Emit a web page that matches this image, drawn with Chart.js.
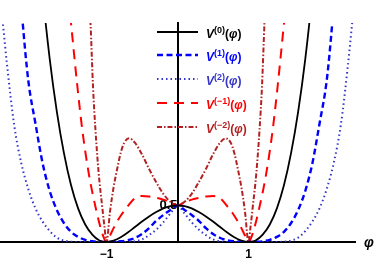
<!DOCTYPE html>
<html>
<head>
<meta charset="utf-8">
<script src="https://cdn.jsdelivr.net/npm/chart.js@4.4.1/dist/chart.umd.min.js"></script>
<style>
  html, body { margin: 0; padding: 0; background: #fff; }
  #wrap { position: relative; width: 374px; height: 260px; }
  #chart { position: absolute; left: 0; top: 0; }
  .row { position: absolute; left: 157px; height: 20px; }
  .row svg { position: absolute; left: 0; }
  .lbl { position: absolute; left: 49px; white-space: nowrap;
         font: bold 12px "Liberation Sans", Arial, sans-serif; line-height: 12px; }
  .lbl i { font-style: italic; }
  .lbl sup { font-size: 9px; position: relative; top: -5px; vertical-align: baseline; }
  #phiLbl { position: absolute; left: 364px; top: 234px;
            font: italic bold 14px "Liberation Sans", Arial, sans-serif; }
</style>
</head>
<body>
<div id="wrap">
  <canvas id="chart" width="374" height="260"></canvas>
</div>
<script>
// Valeurs : potentiels V^(n)(phi)
const phi0 = [-2.0, -1.9, -1.8, -1.7, -1.6, -1.5, -1.4, -1.3, -1.2, -1.1, -1.0, -0.9, -0.8, -0.7, -0.6, -0.5, -0.4, -0.3, -0.2, -0.1, 0,
              0.1, 0.2, 0.3, 0.4, 0.5, 0.6, 0.7, 0.8, 0.9, 1.0, 1.1, 1.2, 1.3, 1.4, 1.5, 1.6, 1.7, 1.8, 1.9, 2.0];
const v0 = [4.5, 3.41, 2.51, 1.79, 1.22, 0.78, 0.46, 0.24, 0.10, 0.02, 0, 0.02, 0.065, 0.13, 0.205, 0.28, 0.35, 0.41, 0.46, 0.49, 0.5,
            0.49, 0.46, 0.41, 0.35, 0.28, 0.205, 0.13, 0.065, 0.02, 0, 0.02, 0.10, 0.24, 0.46, 0.78, 1.22, 1.79, 2.51, 3.41, 4.5];

const phi1 = [-2.25, -2.18, -2.1, -2.0, -1.9, -1.8, -1.7, -1.6, -1.5, -1.4, -1.3, -1.2, -1.1, -1.0, -0.9, -0.8, -0.7, -0.6, -0.5, -0.4, -0.3, -0.2, -0.1, 0,
              0.1, 0.2, 0.3, 0.4, 0.5, 0.6, 0.7, 0.8, 0.9, 1.0, 1.1, 1.2, 1.3, 1.4, 1.5, 1.6, 1.7, 1.8, 1.9, 2.0, 2.1, 2.18, 2.25];
const v1 = [3.9, 3.0, 2.2, 1.62, 1.08, 0.7, 0.44, 0.26, 0.14, 0.07, 0.03, 0.01, 0.003, 0, 0.003, 0.01, 0.025, 0.055, 0.11, 0.19, 0.29, 0.37, 0.44, 0.5,
            0.44, 0.37, 0.29, 0.19, 0.11, 0.055, 0.025, 0.01, 0.003, 0, 0.003, 0.01, 0.03, 0.07, 0.14, 0.26, 0.44, 0.7, 1.08, 1.62, 2.2, 3.0, 3.9];

const phi2 = [-2.55, -2.46, -2.4, -2.3, -2.2, -2.1, -2.0, -1.9, -1.8, -1.7, -1.6, -1.5, -1.4, -1.0, -0.7, -0.6, -0.5, -0.4, -0.3, -0.2, -0.1, 0,
              0.1, 0.2, 0.3, 0.4, 0.5, 0.6, 0.7, 1.0, 1.4, 1.5, 1.6, 1.7, 1.8, 1.9, 2.0, 2.1, 2.2, 2.3, 2.4, 2.46, 2.55];
const v2 = [3.9, 3.0, 2.42, 1.6, 1.08, 0.72, 0.46, 0.28, 0.15, 0.06, 0.02, 0.005, 0, 0, 0, 0.01, 0.035, 0.095, 0.17, 0.27, 0.39, 0.5,
            0.39, 0.27, 0.17, 0.095, 0.035, 0.01, 0, 0, 0, 0.005, 0.02, 0.06, 0.15, 0.28, 0.46, 0.72, 1.08, 1.6, 2.42, 3.0, 3.9];

const phiM1 = [-1.58, -1.5, -1.41, -1.34, -1.25, -1.15, -1.06, -1.0, -0.95, -0.9, -0.85, -0.8, -0.7, -0.6, -0.5, -0.4, -0.3, -0.2, -0.1, 0,
               0.1, 0.2, 0.3, 0.4, 0.5, 0.6, 0.7, 0.8, 0.85, 0.9, 0.95, 1.0, 1.06, 1.15, 1.25, 1.34, 1.41, 1.5, 1.58];
const vM1 = [3.8, 3.0, 2.13, 1.53, 0.94, 0.46, 0.12, 0, 0.09, 0.19, 0.28, 0.36, 0.49, 0.6, 0.63, 0.622, 0.605, 0.58, 0.545, 0.5,
             0.545, 0.58, 0.605, 0.622, 0.63, 0.6, 0.49, 0.36, 0.28, 0.19, 0.09, 0, 0.12, 0.46, 0.94, 1.53, 2.13, 3.0, 3.8];

const phiM2 = [-1.27, -1.225, -1.19, -1.155, -1.11, -1.06, -1.03, -1.0, -0.95, -0.9, -0.85, -0.8, -0.75, -0.68, -0.6, -0.5, -0.4, -0.3, -0.2, -0.1, 0,
               0.1, 0.2, 0.3, 0.4, 0.5, 0.6, 0.68, 0.75, 0.8, 0.85, 0.9, 0.95, 1.0, 1.03, 1.06, 1.11, 1.155, 1.19, 1.225, 1.27];
const vM2 = [3.9, 3.0, 2.13, 1.53, 0.94, 0.48, 0.22, 0, 0.42, 0.75, 1.0, 1.22, 1.36, 1.42, 1.36, 1.2, 1.0, 0.82, 0.66, 0.55, 0.5,
             0.55, 0.66, 0.82, 1.0, 1.2, 1.36, 1.42, 1.36, 1.22, 1.0, 0.75, 0.42, 0, 0.22, 0.48, 0.94, 1.53, 2.13, 3.0, 3.9];

const xTicks = [-1, 1];
const xTickLabels = ['\u22121', '1'];
const yTicks = [0.5];
const yTickLabels = ['0.5'];

const series = [
  { name: '(0)', xs: phi0, ys: v0, color: '#000000', width: 1.8, dash: [] },
  { name: '(1)', xs: phi1, ys: v1, color: '#0000ff', width: 2.4, dash: [6, 3.5] },
  { name: '(2)', xs: phi2, ys: v2, color: '#3535c8', width: 2, dash: [1.5, 3] },
  { name: '(\u22121)', xs: phiM1, ys: vM1, color: '#ff0000', width: 2, dash: [10, 7] },
  { name: '(\u22122)', xs: phiM2, ys: vM2, color: '#b22222', width: 2, dash: [5, 2, 1.5, 2] }
];

const datasets = series.map(s => ({
  label: 'V' + s.name,
  data: s.xs.map((x, i) => ({ x: x, y: s.ys[i] })),
  borderColor: s.color,
  borderWidth: s.width,
  borderDash: s.dash,
  pointRadius: 0,
  fill: false,
  cubicInterpolationMode: 'monotone'
}));

new Chart(document.getElementById('chart'), {
  type: 'line',
  data: { datasets: datasets },
  options: {
    responsive: false,
    animation: false,
    layout: { padding: { top: 23, right: 19, bottom: 0, left: 0 } },
    plugins: { legend: { display: false }, tooltip: { enabled: false } },
    scales: {
      x: {
        type: 'linear', min: -2.5, max: 2.5, z: 1,
        grid: { display: false, drawTicks: false },
        border: { display: true, color: '#000', width: 2 },
        afterBuildTicks: s => { s.ticks = xTicks.map(v => ({ value: v })); },
        afterFit: s => { s.height = 18; },
        ticks: {
          padding: 5, color: '#000',
          font: { family: '"Liberation Sans", Arial, sans-serif', size: 12, weight: 'bold' },
          callback: (v) => xTickLabels[xTicks.indexOf(v)]
        }
      },
      y: {
        type: 'linear', min: 0, max: 3, position: { x: 0 }, z: 1,
        grid: { display: false, drawTicks: false },
        border: { display: true, color: '#000', width: 2 },
        afterBuildTicks: s => { s.ticks = yTicks.map(v => ({ value: v })); },
        ticks: {
          padding: 4, color: '#000',
          font: { family: '"Liberation Sans", Arial, sans-serif', size: 13, weight: 'bold' },
          callback: (v) => yTickLabels[yTicks.indexOf(v)]
        }
      }
    }
  }
});

// Légende HTML (exposants)
const wrap = document.getElementById('wrap');
const rowCenters = [32, 55, 79, 103, 127];
series.forEach((s, i) => {
  const row = document.createElement('div');
  row.className = 'row';
  row.style.top = (rowCenters[i] - 10) + 'px';
  row.innerHTML =
    `<svg width="42" height="20"><line x1="0" y1="10" x2="41" y2="10" stroke="${s.color}"
       stroke-width="${s.width}" stroke-dasharray="${s.dash.join(' ')}"/></svg>` +
    `<div class="lbl" style="top:5.5px;color:${s.color}"><i>V</i><sup>${s.name}</sup>(<i>\u03c6</i>)</div>`;
  wrap.appendChild(row);
});
const phiLbl = document.createElement('div');
phiLbl.id = 'phiLbl';
phiLbl.textContent = '\u03c6';
wrap.appendChild(phiLbl);
</script>
</body>
</html>
